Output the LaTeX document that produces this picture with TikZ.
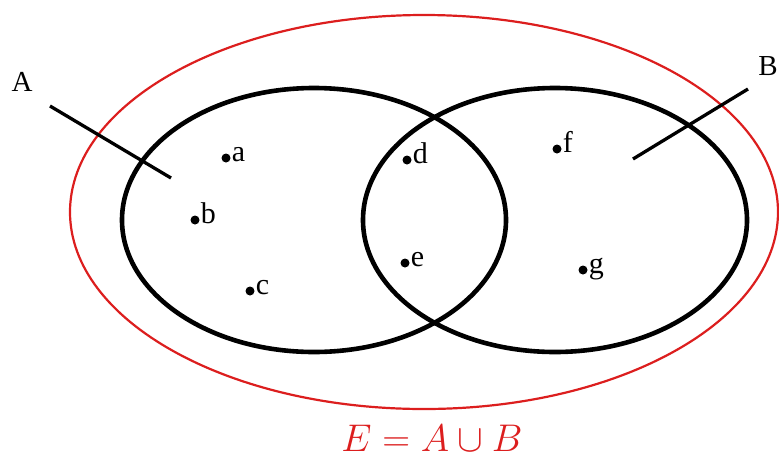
\documentclass[tikz,border=0pt]{standalone}
\usepackage{fontspec}
\setmainfont{Liberation Serif}
\definecolor{venred}{RGB}{220,30,30}
\begin{document}
\begin{tikzpicture}[x=1pt,y=-1pt,
  setline/.style={line width=4.6pt,black},
  uniline/.style={line width=2.2pt,venred},
  pointer/.style={line width=3.3pt,black},
  dot/.style={circle,fill=black,inner sep=0pt,minimum size=9pt},
  lbl/.style={font=\fontsize{30}{34}\selectfont,inner sep=1pt,anchor=mid west},
  setname/.style={font=\fontsize{29}{34}\selectfont,inner sep=0pt}]
\useasboundingbox (0,0) rectangle (779,459);
% universe
\draw[uniline] (424,212) ellipse [x radius=354, y radius=197];
% sets
\draw[setline] (314,220) ellipse [x radius=192, y radius=132];
\draw[setline] (555,220) ellipse [x radius=192, y radius=132];
% set names and pointers
\node[setname] (A) at (22,82) {A};
\node[setname] (B) at (768,66) {B};
\coordinate (pA1) at (50,106);
\coordinate (pA2) at (171,178);
\coordinate (pB1) at (748,89);
\coordinate (pB2) at (633,159);
\draw[pointer] (pA1) -- (pA2);
\draw[pointer] (pB1) -- (pB2);
% elements
\node[dot] (da) at (226,158) {}; \node[lbl] (la) at ([yshift=-1pt]da.east) {a};
\node[dot] (db) at (195,220) {}; \node[lbl] (lb) at ([yshift=-1pt]db.east) {b};
\node[dot] (dc) at (250,291) {}; \node[lbl] (lc) at ([yshift=-1pt]dc.east) {c};
\node[dot] (dd) at (407,160) {}; \node[lbl] (ld) at ([yshift=-1pt]dd.east) {d};
\node[dot] (de) at (405,263) {}; \node[lbl] (le) at ([yshift=-1pt]de.east) {e};
\node[dot] (df) at (557,149) {}; \node[lbl] (lf) at ([yshift=-1pt]df.east) {f};
\node[dot] (dg) at (583,270) {}; \node[lbl] (lg) at ([yshift=-1pt]dg.east) {g};
% caption
\node[text=venred,font=\Huge,scale=1.55,inner sep=0pt] (cap) at (432,438) {$E = A\cup B$};
\end{tikzpicture}
\end{document}
